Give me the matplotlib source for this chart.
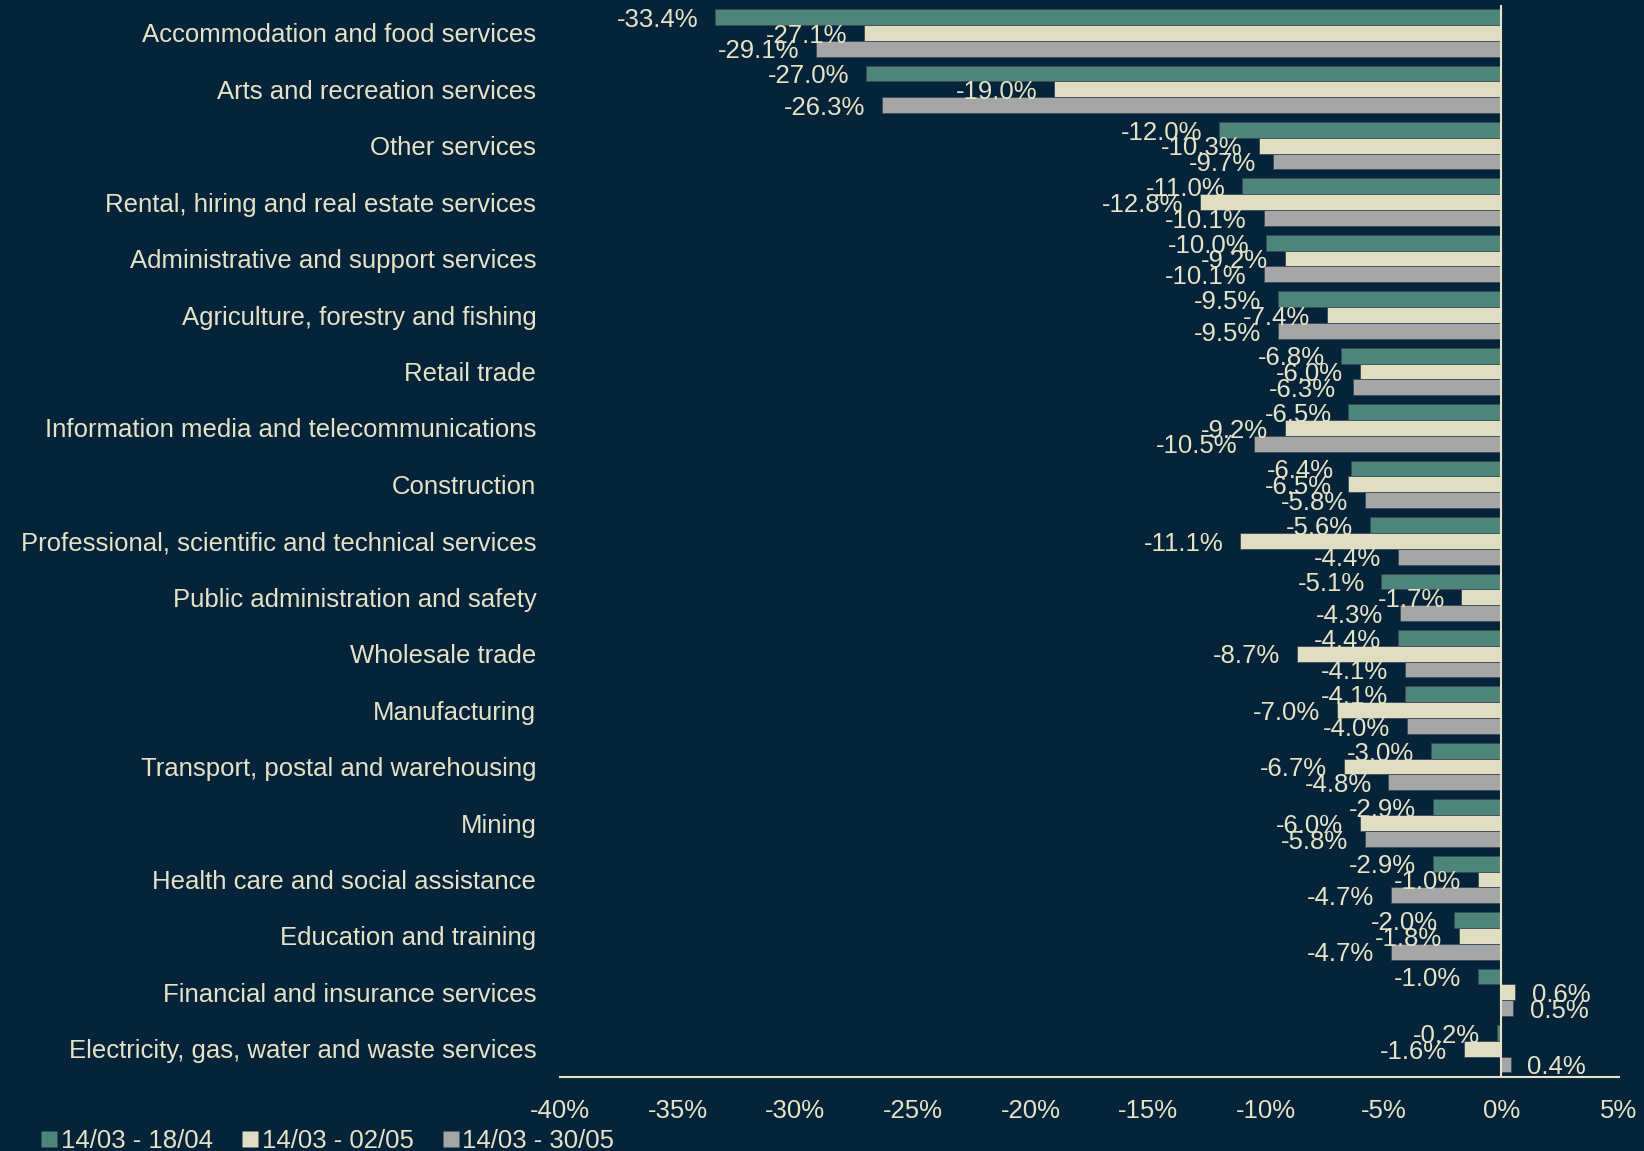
import matplotlib
matplotlib.use("Agg")
import matplotlib.pyplot as plt
import numpy as np
from matplotlib.lines import Line2D

BG = "#05243A"
TXT = "#E6E2C6"
COLORS = ["#4E857A", "#E0DEC2", "#A6A6A6"]
SERIES = ["14/03 - 18/04", "14/03 - 02/05", "14/03 - 30/05"]

industries = [
    "Accommodation and food services", "Arts and recreation services",
    "Other services", "Rental, hiring and real estate services",
    "Administrative and support services", "Agriculture, forestry and fishing",
    "Retail trade", "Information media and telecommunications", "Construction",
    "Professional, scientific and technical services",
    "Public administration and safety", "Wholesale trade", "Manufacturing",
    "Transport, postal and warehousing", "Mining",
    "Health care and social assistance", "Education and training",
    "Financial and insurance services",
    "Electricity, gas, water and waste services",
]
apr18 = [-33.4, -27.0, -12.0, -11.0, -10.0, -9.5, -6.8, -6.5, -6.4, -5.6,
         -5.1, -4.4, -4.1, -3.0, -2.9, -2.9, -2.0, -1.0, -0.2]
may02 = [-27.1, -19.0, -10.3, -12.8, -9.2, -7.4, -6.0, -9.2, -6.5, -11.1,
         -1.7, -8.7, -7.0, -6.7, -6.0, -1.0, -1.8, 0.6, -1.6]
may30 = [-29.1, -26.3, -9.7, -10.1, -10.1, -9.5, -6.3, -10.5, -5.8, -4.4,
         -4.3, -4.1, -4.0, -4.8, -5.8, -4.7, -4.7, 0.5, 0.4]

plt.rcParams["font.family"] = ["Liberation Sans", "DejaVu Sans"]
FS = 18.5

fig = plt.figure(figsize=(16.44, 11.51), dpi=100, facecolor=BG)
ax = fig.add_axes([0.3406, 0.0643, 0.6442, 0.9317], facecolor=BG)

y = np.arange(len(industries))
h = 0.28
for k, vals in enumerate([apr18, may02, may30]):
    pos = y + (k - 1) * h
    ax.barh(pos, vals, height=h, color=COLORS[k], edgecolor="#3a4a55",
            linewidth=0.6, zorder=2)
    for yy, v in zip(pos, vals):
        off = -12 if v < 0 else 12
        ax.annotate(f"{v:.1f}%", (v, yy), xytext=(off, -2),
                    textcoords="offset points", ha="right" if v < 0 else "left",
                    va="center", color=TXT, fontsize=FS, zorder=3)

ax.axvline(0, color=TXT, linewidth=1.5, zorder=4)
ax.set_xlim(-40, 5)
ax.set_ylim(len(industries) - 0.5, -0.5)
ax.set_xticks(np.arange(-40, 6, 5))
ax.set_xticklabels([f"{t}%" for t in range(-40, 6, 5)])
ax.set_yticks(y)
ax.set_yticklabels(industries)
ax.tick_params(axis="x", length=0, pad=16, labelsize=FS, colors=TXT)
ax.tick_params(axis="y", length=0, pad=17, labelsize=FS, colors=TXT)
for s in ["top", "right", "left"]:
    ax.spines[s].set_visible(False)
ax.spines["bottom"].set_color(TXT)
ax.spines["bottom"].set_linewidth(1.5)

handles = [Line2D([], [], marker="s", linestyle="", markersize=11,
                  markerfacecolor=c, markeredgecolor="none", label=l)
           for c, l in zip(COLORS, SERIES)]
fig.legend(handles=handles, loc="lower left", bbox_to_anchor=(0.012, -0.022),
           ncol=3, frameon=False, fontsize=FS, labelcolor=TXT,
           handlelength=0.5, handletextpad=0.2, columnspacing=1.2)

fig.savefig("out.png", dpi=100, facecolor=BG)
